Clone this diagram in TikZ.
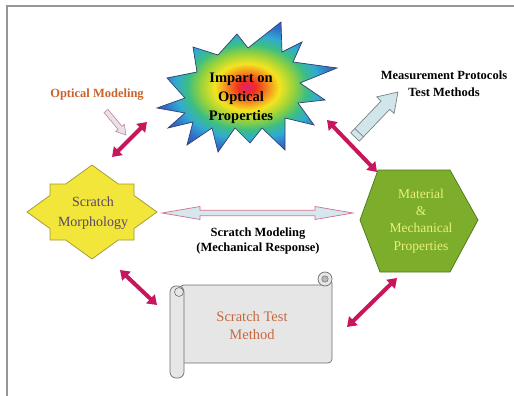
\documentclass[tikz,border=0pt]{standalone}
\usepackage{fontspec}
\setmainfont{Liberation Serif}
\newfontfamily\tnr{Liberation Serif}
\usetikzlibrary{arrows.meta,calc}
\definecolor{magarrow}{RGB}{200,22,92}
\definecolor{framegray}{RGB}{150,150,150}
\definecolor{opttxt}{RGB}{200,100,44}
\definecolor{scrolltxt}{RGB}{200,104,60}
\definecolor{morphtxt}{RGB}{90,72,104}
\definecolor{mattxt}{RGB}{234,240,122}
\definecolor{hexfill}{RGB}{124,174,44}
\definecolor{hexline}{RGB}{74,118,26}
\definecolor{starfill}{RGB}{242,230,58}
\definecolor{starline}{RGB}{160,150,48}
\definecolor{burstline}{RGB}{48,64,112}
\definecolor{fatfill}{RGB}{208,230,234}
\definecolor{fatline}{RGB}{120,130,130}
\definecolor{dblfill}{RGB}{214,232,238}
\definecolor{dblline}{RGB}{208,112,144}
\definecolor{smallfill}{RGB}{232,226,234}
\definecolor{smallline}{RGB}{196,144,164}
\definecolor{scrollfill}{RGB}{230,230,230}
\definecolor{scrollline}{RGB}{110,110,110}
\definecolor{bA}{RGB}{226,30,120}
\definecolor{bB}{RGB}{240,48,32}
\definecolor{bC}{RGB}{244,130,30}
\definecolor{bD}{RGB}{244,228,32}
\definecolor{bE}{RGB}{150,210,60}
\definecolor{bF}{RGB}{60,190,130}
\definecolor{bG}{RGB}{50,170,210}
\definecolor{bH}{RGB}{50,110,200}
\definecolor{bI}{RGB}{40,80,170}
\pgfdeclareradialshading{burst}{\pgfpoint{0bp}{0bp}}{color(0bp)=(bA); color(2.5bp)=(bB); color(5.5bp)=(bC); color(9bp)=(bD); color(13bp)=(bE); color(16.5bp)=(bF); color(20bp)=(bG); color(24bp)=(bH); color(29bp)=(bI); color(50bp)=(bI)}
\begin{document}
\begin{tikzpicture}[x=1pt,y=-1pt,
  magdbl/.style={draw=magarrow, line width=4pt, {Triangle[length=9pt,width=12pt]}-{Triangle[length=9pt,width=12pt]}},
  boldtxt/.style={align=center, inner sep=0pt, font=\tnr\fontsize{12.5}{17}\selectfont\bfseries},
  plaintxt/.style={align=center, inner sep=0pt}]
\useasboundingbox (0,0) rectangle (514,396);
% frame
\draw[framegray, line width=2pt] (6.5,396) -- (6.5,6.5) -- (514,6.5);

% starburst
\shadedraw[shading=burst, draw=burstline, line width=0.7pt]
 (157,108) -- (185,98) -- (167,78) -- (197,72) -- (193,47) -- (218,55) -- (237,34) -- (248,48) -- (281,22) -- (282,52) -- (302,42) -- (293,62) -- (337,68) -- (300,83) -- (325,100) -- (298,103) -- (314,125) -- (285,118) -- (285,150) -- (262,128) -- (250,143) -- (235,128) -- (218,152) -- (212,128) -- (187,145) -- (193,122) -- (168,128) -- (185,113) -- cycle;
\node[boldtxt, font=\tnr\fontsize{14.5}{19}\selectfont\bfseries] (impart) at (241,98) {Impart on\\Optical\\Properties};

% measurement arrow
\coordinate (mt) at (355,137);
\coordinate (mh) at (398,92);
\coordinate (mb) at ($(mt)!44pt!(mh)$);
\coordinate (mc) at ($(mt)!6pt!(mh)$);
\filldraw[fill=fatfill, draw=fatline, line width=0.7pt]
 ($(mt)!6pt!90:(mh)$) -- ($(mb)!6pt!90:(mh)$) -- ($(mb)!12pt!90:(mh)$) -- (mh) -- ($(mb)!12pt!-90:(mh)$) -- ($(mb)!6pt!-90:(mh)$) -- ($(mt)!6pt!-90:(mh)$) -- cycle;
\draw[fatline, line width=0.7pt] ($(mc)!6pt!90:(mh)$) -- ($(mc)!6pt!-90:(mh)$);
\node[boldtxt] (measure) at (444,84) {Measurement Protocols\\Test Methods};

% optical modeling
\node[boldtxt, text=opttxt] (optical) at (97,95) {Optical Modeling};
\coordinate (ot) at (106,111);
\coordinate (oh) at (126,135);
\coordinate (ob) at ($(ot)!22pt!(oh)$);
\filldraw[fill=smallfill, draw=smallline, line width=0.7pt]
 ($(ot)!2.5pt!90:(oh)$) -- ($(ob)!2.5pt!90:(oh)$) -- ($(ob)!5.5pt!90:(oh)$) -- (oh) -- ($(ob)!5.5pt!-90:(oh)$) -- ($(ob)!2.5pt!-90:(oh)$) -- ($(ot)!2.5pt!-90:(oh)$) -- cycle;

% scratch morphology star
\filldraw[fill=starfill, draw=starline, line width=0.7pt]
 (27,212) -- (50,195.4) -- (50,184) -- (65.7,184) -- (92,165) -- (118.3,184) -- (134,184) -- (134,195.4) -- (157,212) -- (134,228.6) -- (134,240) -- (118.3,240) -- (92,259) -- (65.7,240) -- (50,240) -- (50,228.6) -- cycle;
\node[plaintxt, text=morphtxt, font=\tnr\fontsize{14}{20}\selectfont] (morph) at (93,213) {Scratch\\Morphology};

% hexagon
\filldraw[fill=hexfill, draw=hexline, line width=0.7pt]
 (378,170) -- (450,170) -- (478,220) -- (450,272) -- (380,272) -- (360,220) -- cycle;
\node[plaintxt, text=mattxt, font=\tnr\fontsize{13.5}{17.4}\selectfont] (material) at (421,221) {Material\\\&\\Mechanical\\Properties};

% scratch modeling double arrow
\coordinate (sl) at (162,213);
\coordinate (sr) at (353,213);
\filldraw[fill=dblfill, draw=dblline, line width=0.7pt]
 (sl) -- (200,206.5) -- (200,210.3) -- (315,210.3) -- (315,206.5) -- (sr) -- (315,219.5) -- (315,215.7) -- (200,215.7) -- (200,219.5) -- cycle;
\node[boldtxt, font=\tnr\fontsize{12.5}{15}\selectfont\bfseries] (smod) at (258,240.5) {Scratch Modeling\\(Mechanical Response)};

% scroll
\filldraw[fill=scrollfill, draw=scrollline, line width=0.7pt, rounded corners=4pt]
 (180,285) -- (325,285) -- (332,279) -- (332,363) -- (180,363) -- cycle;
\filldraw[fill=scrollfill, draw=scrollline, line width=0.7pt] (325,279) circle (7);
\filldraw[fill=gray!55, draw=scrollline, line width=0.5pt] (325,279) circle (3.2);
\filldraw[fill=scrollfill, draw=scrollline, line width=0.7pt, rounded corners=6pt]
 (170,286) rectangle (184,378);
\filldraw[fill=scrollfill, draw=scrollline, line width=0.6pt] (179,292) circle (4.5);
\node[plaintxt, text=scrolltxt, font=\tnr\fontsize{14.5}{18}\selectfont] (scroll) at (252,326) {Scratch Test\\Method};

% magenta double arrows
\coordinate (a1) at (112,157); \coordinate (a2) at (147,122);
\coordinate (b1) at (327,120); \coordinate (b2) at (377,172);
\coordinate (c1) at (120,270); \coordinate (c2) at (157,305);
\coordinate (d1) at (347,327); \coordinate (d2) at (397,278);
\draw[magdbl] (a1) -- (a2);
\draw[magdbl] (b1) -- (b2);
\draw[magdbl] (c1) -- (c2);
\draw[magdbl] (d1) -- (d2);
\end{tikzpicture}
\end{document}
